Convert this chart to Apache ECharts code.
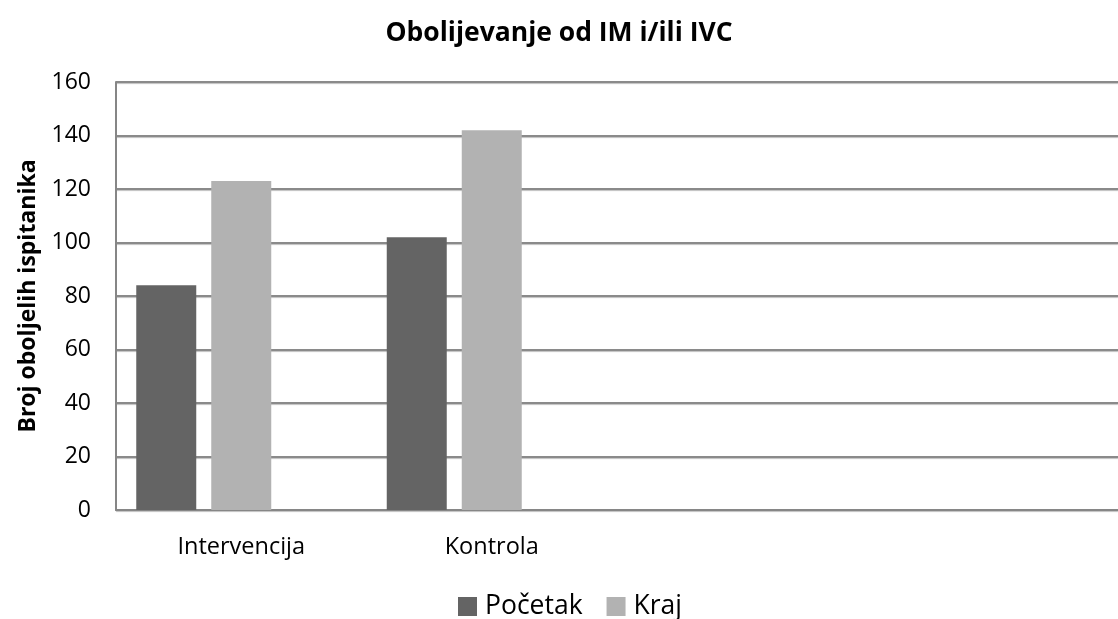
<!DOCTYPE html>
<html><head><meta charset="utf-8">
<script src="https://cdn.jsdelivr.net/npm/echarts@6/dist/echarts.min.js"></script>
<style>html,body{margin:0;padding:0;background:#fff}#c{width:1118px;height:619px}</style>
</head><body><div id="c"></div>
<script>
const categories = ['Intervencija', 'Kontrola', '', ''];
const pocetak = [84, 102, '-', '-'];
const kraj = [123, 142, '-', '-'];
const empty = ['-', '-', '-', '-'];
const yTicks = [0, 20, 40, 60, 80, 100, 120, 140, 160];

const FONT = 'Open Sans';
const chart = echarts.init(document.getElementById('c'), null, {renderer: 'canvas'});
chart.setOption({
  animation: false,
  backgroundColor: '#fff',
  title: {
    text: 'Obolijevanje od IM i/ili IVC',
    left: 'center', top: 15,
    textStyle: {fontFamily: FONT, fontSize: 26.5, fontWeight: 'bold', color: '#000'}
  },
  legend: {
    data: ['Početak', 'Kraj'],
    top: 588, left: 453,
    itemWidth: 19, itemHeight: 19, itemGap: 24,
    icon: 'rect',
    textStyle: {fontFamily: FONT, fontSize: 26.5, color: '#000', padding: [0, 0, 0, 3]}
  },
  grid: {left: 116, top: 82, width: 1016, height: 428, containLabel: false},
  xAxis: {
    type: 'category',
    data: categories,
    axisLine: {show: true, lineStyle: {color: '#868686', width: 2}},
    axisTick: {show: false},
    axisLabel: {fontFamily: FONT, fontSize: 23.5, color: '#000', margin: 25}
  },
  yAxis: {
    type: 'value',
    min: yTicks[0], max: yTicks[yTicks.length - 1], interval: 20,
    name: 'Broj oboljelih ispitanika',
    nameLocation: 'middle', nameGap: 76, nameRotate: 90,
    nameTextStyle: {fontFamily: FONT, fontSize: 23, fontWeight: 'bold', color: '#000'},
    axisLine: {show: true, lineStyle: {color: '#868686', width: 2}},
    axisTick: {show: false},
    axisLabel: {fontFamily: FONT, fontSize: 23, color: '#000', margin: 25},
    splitLine: {show: true, lineStyle: {color: '#8a8a8a', width: 2, shadowColor: 'rgba(0,0,0,0.25)', shadowOffsetY: 1, shadowBlur: 1}}
  },
  series: [
    {name: 'Početak', type: 'bar', data: pocetak, barWidth: 60, barGap: '25%', itemStyle: {color: '#646464'}},
    {name: 'Kraj', type: 'bar', data: kraj, barWidth: 60, barGap: '25%', itemStyle: {color: '#b2b2b2'}},
    {name: 'x', type: 'bar', data: empty, barWidth: 60, barGap: '25%', itemStyle: {color: '#888'}}
  ]
});
</script></body></html>
